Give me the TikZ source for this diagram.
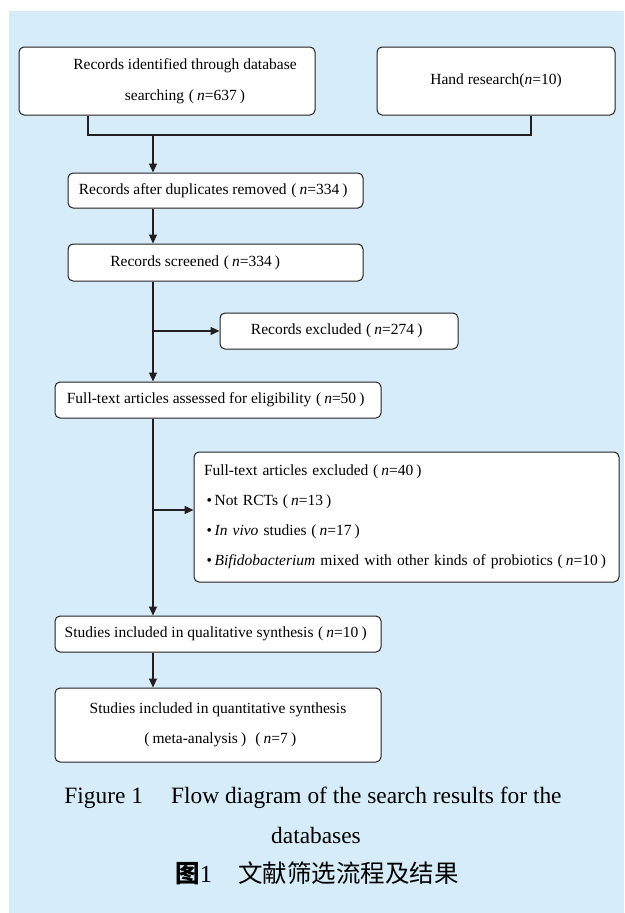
\documentclass[tikz,border=0pt]{standalone}
\usepackage{fontspec}
\setmainfont{Liberation Serif}
\newfontfamily\cjk{Noto Sans CJK SC}
\usetikzlibrary{arrows.meta}
\definecolor{bgblue}{RGB}{214,236,249}
\definecolor{ink}{RGB}{35,31,32}
\newcommand{\lpar}{\hspace{0.3em}(\hspace{0.2em}}
\newcommand{\rpar}{\hspace{0.2em})\hspace{0.3em}}
\begin{document}
\begin{tikzpicture}[x=1pt,y=-1pt,
 box/.style={draw=ink,line width=1pt,rounded corners=5pt,fill=white,inner sep=0pt,align=center,font=\fontsize{15.5}{31}\selectfont},
 arr/.style={draw=ink,line width=1.2pt,-{Triangle[length=9pt,width=8pt]}},
 ln/.style={draw=ink,line width=1.2pt},
 captext/.style={inner sep=0pt,font=\fontsize{23.4}{26}\selectfont}]
\fill[white] (0,0) rectangle (624,913);
\fill[bgblue] (9,11) rectangle (624,913);
\useasboundingbox (0,0) rectangle (624,913);
\node[box,minimum width=296pt,minimum height=68pt] (b1) at (167,81) {\hspace*{36pt}Records identified through database\\\hspace*{36pt}searching\lpar\textit{n}=637\rpar};
\node[box,minimum width=238pt,minimum height=68pt] (b2) at (496,81) {Hand research(\textit{n}=10)};
\node[box,minimum width=295pt,minimum height=35pt] (b3) at (215.5,190.5) {Records after duplicates removed\lpar\textit{n}=334\rpar};
\node[box,minimum width=295pt,minimum height=37pt] (b4) at (215.5,262.5) {Records screened\lpar\textit{n}=334\rpar\hspace*{36pt}};
\node[box,minimum width=238pt,minimum height=36pt] (b5) at (339,331) {Records excluded\lpar\textit{n}=274\rpar};
\node[box,minimum width=326pt,minimum height=36pt] (b6) at (218,400) {Full-text articles assessed for eligibility\lpar\textit{n}=50\rpar};
\node[box,align=left,text width=405pt,inner xsep=10pt,minimum height=130pt,font=\fontsize{15.5}{30}\selectfont] (b7) at (406.5,517) {Full-text articles excluded\lpar\textit{n}=40\rpar\\
\,•\,Not RCTs\lpar\textit{n}=13\rpar\\
\,•\,\textit{In vivo} studies\lpar\textit{n}=17\rpar\\
\,•\,\textit{Bifidobacterium} mixed with other kinds of probiotics\lpar\textit{n}=10\rpar};
\node[box,minimum width=326pt,minimum height=36pt] (b8) at (218,634) {Studies included in qualitative synthesis\lpar\textit{n}=10\rpar};
\node[box,minimum width=326pt,minimum height=74pt,font=\fontsize{15.5}{30}\selectfont] (b9) at (218,725) {Studies included in quantitative synthesis\\\lpar meta-analysis\rpar\lpar\textit{n}=7\rpar};
\coordinate (j1) at (88,135);
\coordinate (j2) at (531,135);
\coordinate (jm) at (153,135);
\coordinate (k) at (153,510);
\draw[ln] (b1.south -| j1) -- (j1) -- (j2) -- (b2.south -| j2);
\draw[arr] (jm) -- (b3.north -| jm);
\draw[arr] (b3.south -| jm) -- (b4.north -| jm);
\draw[arr] (b4.south -| jm) -- (b6.north -| jm);
\draw[arr] (jm |- b5.west) -- (b5.west);
\draw[arr] (b6.south -| jm) -- (b8.north -| jm);
\draw[arr] (k) -- (k -| b7.west);
\draw[arr] (b8.south -| jm) -- (b9.north -| jm);
\node[captext] (cap1) at (313,798) {Figure 1\hspace{28pt}Flow diagram of the search results for the};
\node[captext] (cap2) at (316,835) {databases};
\node[captext,font=\fontsize{24.5}{28}\selectfont] (cap3) at (317,873) {{\cjk\bfseries 图}1\hspace{26pt}{\cjk 文献筛选流程及结果}};
\end{tikzpicture}
\end{document}
